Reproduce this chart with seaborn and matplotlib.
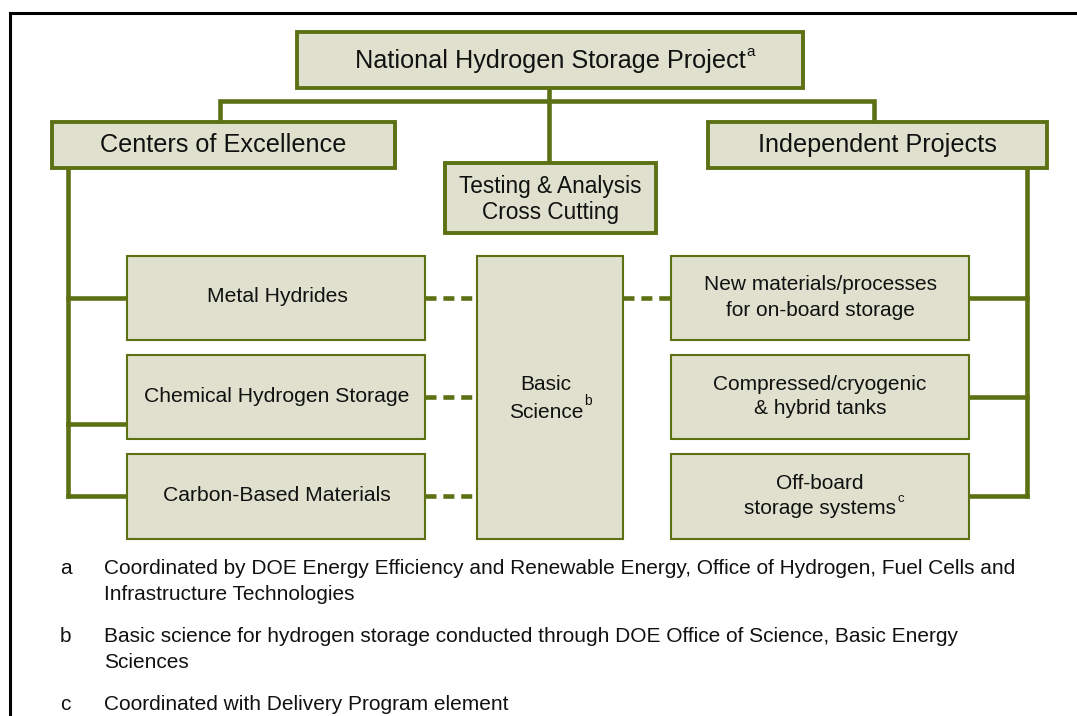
import matplotlib
matplotlib.use("Agg")
import matplotlib.pyplot as plt
from matplotlib.patches import Rectangle
import seaborn as sns

# ---------------- data (labels) ----------------
top_label = "National Hydrogen Storage Project"
top_sup = "a"
branch_labels = ["Centers of Excellence", "Independent Projects"]
cross_label = ["Testing & Analysis", "Cross Cutting"]
left_labels = [["Metal Hydrides"], ["Chemical Hydrogen Storage"], ["Carbon-Based Materials"]]
right_labels = [["New materials/processes", "for on-board storage"],
                ["Compressed/cryogenic", "& hybrid tanks"],
                ["Off-board", "storage systems"]]
right_sups = ["", "", "c"]
basic_label = ["Basic", "Science"]
basic_sup = "b"
note_keys = ["a", "b", "c"]
note_texts = [
    ["Coordinated by DOE Energy Efficiency and Renewable Energy, Office of Hydrogen, Fuel Cells and",
     "Infrastructure Technologies"],
    ["Basic science for hydrogen storage conducted through DOE Office of Science, Basic Energy",
     "Sciences"],
    ["Coordinated with Delivery Program element"],
]

# ---------------- style ----------------
sns.set_theme(style="white")
plt.rcParams["font.family"] = ["Liberation Sans", "DejaVu Sans"]
OLIVE = "#5c7114"
FILL = "#dfe0cd"
TXT = "#111111"

fig = plt.figure(figsize=(10.77, 7.16), dpi=100)
ax = fig.add_axes([0, 0, 1, 1])
ax.set_xlim(0, 1077)
ax.set_ylim(716, 0)
ax.axis("off")
renderer = fig.canvas.get_renderer()


def box(x0, y0, x1, y1, lw):
    ax.add_patch(Rectangle((x0, y0), x1 - x0, y1 - y0, facecolor=FILL,
                           edgecolor=OLIVE, linewidth=lw, zorder=3))


def lines_text(xc, ys, lines, size, sup="", sup_dy=-9, sup_size=None):
    last = None
    for y, s in zip(ys, lines):
        last = ax.text(xc, y, s, ha="center", va="center", fontsize=size,
                       color=TXT, zorder=5)
    if sup:
        bb = last.get_window_extent(renderer=renderer)
        xr = ax.transData.inverted().transform((bb.x1, bb.y0))[0]
        ax.text(xr + 1, ys[-1] + sup_dy, sup, ha="left", va="center",
                fontsize=sup_size or size * 0.6, color=TXT, zorder=5)


def seg(xs, ys, lw=3.3, dashes=None):
    l, = ax.plot(xs, ys, color=OLIVE, linewidth=lw, solid_capstyle="projecting",
                 solid_joinstyle="miter", zorder=2)
    if dashes:
        l.set_dashes(dashes)
        l.set_dash_capstyle("butt")


# frame
ax.plot([10, 10, 1077], [716, 13, 13], color="black", linewidth=2.2,
        solid_joinstyle="miter", zorder=1)

# connectors top
seg([220, 220, 874, 874], [122, 101, 101, 122])
seg([549, 549], [88, 163])

# trunks and branches
lx, rx = 68, 1027
left_branch_y = [298, 424, 496]
right_branch_y = [298, 397, 496]
seg([lx, lx], [168, 496])
for y in left_branch_y:
    seg([lx, 127], [y, y])
seg([rx, rx], [168, 496])
for y in right_branch_y:
    seg([rx, 969], [y, y])

# dashed links
dash_left_y = [298, 397, 496]
for y in dash_left_y:
    seg([425, 477], [y, y], lw=3.3, dashes=(2.4, 1.5))
seg([623, 671], [298, 298], lw=3.3, dashes=(2.4, 1.5))

# top-level boxes
box(297, 32, 803, 88, 2.8)
lines_text(550, [61], [top_label], 18.2, sup=top_sup, sup_dy=-9, sup_size=11)

branch_boxes = [(52, 122, 395, 168), (708, 122, 1047, 168)]
for (x0, y0, x1, y1), lab in zip(branch_boxes, branch_labels):
    box(x0, y0, x1, y1, 2.8)
    lines_text((x0 + x1) / 2, [145], [lab], 18.2)

box(445, 163, 656, 233, 2.8)
lines_text(550.5, [186, 212], cross_label, 16.3)

# inner boxes
row_y = [(256, 340), (355, 439), (454, 539)]
for (y0, y1), labs in zip(row_y, left_labels):
    box(127, y0, 425, y1, 1.5)
    yc = (y0 + y1) / 2
    lines_text(277, [yc - 1], labs, 15.2)

for (y0, y1), labs, sup in zip(row_y, right_labels, right_sups):
    box(671, y0, 969, y1, 1.5)
    yc = (y0 + y1) / 2
    lines_text(820, [yc - 13, yc + 12], labs, 15, sup=sup, sup_dy=-9, sup_size=9.5)

box(477, 256, 623, 539, 1.5)
lines_text(546, [385, 412], basic_label, 15, sup=basic_sup, sup_dy=-11, sup_size=10)

# footnotes
note_y = [[568, 594], [637, 663], [705]]
for key, texts, ys in zip(note_keys, note_texts, note_y):
    ax.text(60, ys[0], key, ha="left", va="center", fontsize=15, color=TXT)
    for y, t in zip(ys, texts):
        ax.text(104, y, t, ha="left", va="center", fontsize=15, color=TXT)

fig.savefig("out.png", dpi=100, facecolor="white")
